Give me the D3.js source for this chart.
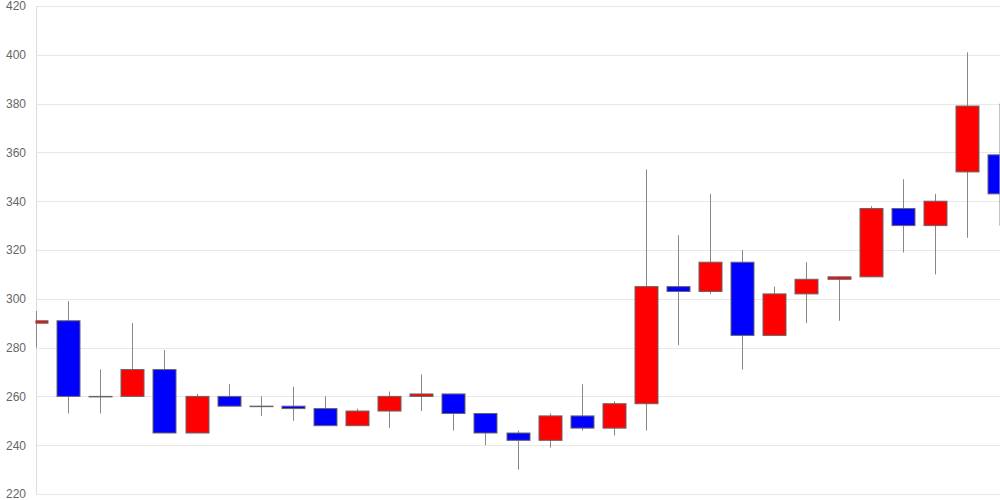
<!DOCTYPE html>
<meta charset="utf-8">
<style>
body { margin: 0; background: #fff; }
.grid line { stroke: #e8e8e8; }
.axis text { fill: #666; font-family: "Liberation Sans", Arial, sans-serif; font-size: 12px; }
.wick { stroke: #888; stroke-width: 1px; }
.body { stroke: #666; stroke-width: 1px; }
</style>
<svg width="1000" height="500"></svg>
<script src="https://cdn.jsdelivr.net/npm/d3@7/dist/d3.min.js"></script>
<script>

// ohlc, one entry per day
var opens  = [290, 291, 260, 260, 271, 245, 260, 256, 256, 255, 248, 254, 260, 261, 253, 245, 242, 252, 247, 257, 305, 303, 315, 285, 302, 308, 309, 337, 330, 352, 359];
var closes = [291, 260, 260, 271, 245, 260, 256, 256, 255, 248, 254, 260, 261, 253, 245, 242, 252, 247, 257, 305, 303, 315, 285, 302, 308, 309, 337, 330, 340, 379, 343];
var highs  = [295, 299, 271, 290, 279, 261, 265, 260, 264, 260, 255, 262, 269, 261, 253, 246, 253, 265, 258, 353, 326, 343, 320, 305, 315, 309, 338, 349, 343, 401, 380];
var lows   = [280, 253, 253, 260, 245, 245, 256, 252, 250, 248, 248, 247, 254, 246, 240, 230, 239, 246, 244, 246, 281, 302, 271, 285, 290, 291, 309, 319, 310, 325, 330];
var yTicks = [220, 240, 260, 280, 300, 320, 340, 360, 380, 400, 420];

var svg = d3.select("svg"),
    width = +svg.attr("width"),
    height = +svg.attr("height");

var mLeft = 36, mTop = 6, mBottom = 494;

var data = opens.map(function(o, i) {
  return {i: i, o: o, c: closes[i], h: highs[i], l: lows[i]};
});

var x = d3.scaleLinear().domain([0, data.length - 1]).range([mLeft, 999]);
var y = d3.scaleLinear().domain([220, 420]).range([mBottom, mTop]);

svg.append("defs").append("clipPath").attr("id", "plot")
  .append("rect").attr("x", mLeft - 0.5).attr("y", 0).attr("width", width - mLeft).attr("height", height);

// horizontal grid
svg.append("g").attr("class", "grid")
  .selectAll("line").data(yTicks).enter().append("line")
    .attr("x1", mLeft).attr("x2", width)
    .attr("y1", function(d) { return Math.round(y(d)) + 0.5; })
    .attr("y2", function(d) { return Math.round(y(d)) + 0.5; });

svg.append("line")
  .attr("x1", mLeft + 0.5).attr("x2", mLeft + 0.5)
  .attr("y1", mTop).attr("y2", mBottom + 0.5)
  .attr("stroke", "#ddd");

var axis = d3.axisLeft(y).tickValues(yTicks).tickSize(0).tickPadding(10);
svg.append("g").attr("class", "axis")
  .attr("transform", "translate(" + mLeft + ",0)")
  .call(axis)
  .call(function(g) { g.select(".domain").remove(); });

var g = svg.append("g").attr("clip-path", "url(#plot)");
var bw = 23;

g.selectAll(".wick").data(data).enter().append("line")
  .attr("class", "wick")
  .attr("x1", function(d) { return Math.round(x(d.i)) + 0.5; })
  .attr("x2", function(d) { return Math.round(x(d.i)) + 0.5; })
  .attr("y1", function(d) { return y(d.h); })
  .attr("y2", function(d) { return y(d.l); });

g.selectAll(".body").data(data).enter().append("rect")
  .attr("class", "body")
  .attr("x", function(d) { return Math.round(x(d.i)) - bw / 2 + 0.5; })
  .attr("width", bw)
  .attr("y", function(d) { return y(Math.max(d.o, d.c)); })
  .attr("height", function(d) { return Math.max(0.5, Math.abs(y(d.o) - y(d.c))); })
  .attr("fill", function(d) { return d.c > d.o ? "#ff0000" : d.c < d.o ? "#0000ff" : "#666"; });

</script>
